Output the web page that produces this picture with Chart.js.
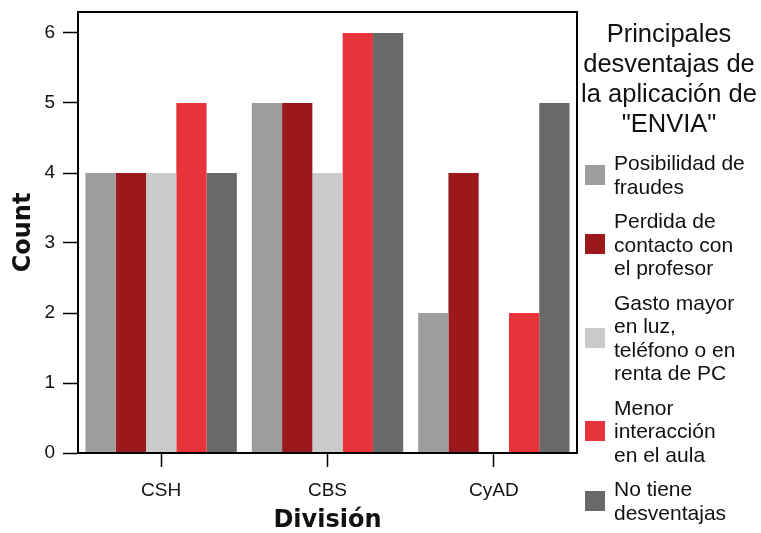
<!DOCTYPE html>
<html lang="es">
<head>
    <meta charset="UTF-8">
    <title>Principales desventajas de la aplicación de "ENVIA"</title>
    <script src="https://cdn.jsdelivr.net/npm/chart.js"></script>
    <style>
        body { margin: 0; background: #fff; width: 761px; height: 533px; overflow: hidden; position: relative; font-family: "Liberation Sans", Arial, sans-serif; }
        #wrap { position: absolute; left: 0; top: 0; width: 580px; height: 533px; }
        #legend { position: absolute; left: 577px; top: 18px; width: 184px; color: #111; }
        #legend .title { text-align: center; font-size: 25.5px; line-height: 30px; margin-bottom: 13px; white-space: nowrap; }
        #legend .item { display: flex; align-items: center; margin-left: 8px; margin-bottom: 11px; }
        #legend .sw { width: 20px; height: 20px; flex: none; margin-right: 9px; }
        #legend .txt { font-size: 21px; line-height: 23.5px; white-space: nowrap; }
    </style>
</head>
<body>
    <div id="wrap"><canvas id="chart"></canvas></div>
    <div id="legend"></div>
    <script>
        const divisiones = ['CSH', 'CBS', 'CyAD'];
        const fraudes = [4, 5, 2];
        const contacto = [4, 5, 4];
        const gasto = [4, 4, 0];
        const interaccion = [5, 6, 2];
        const sinDesventajas = [4, 6, 5];
        const seriesNames = [
            ['Posibilidad de', 'fraudes'],
            ['Perdida de', 'contacto con', 'el profesor'],
            ['Gasto mayor', 'en luz,', 'teléfono o en', 'renta de PC'],
            ['Menor', 'interacción', 'en el aula'],
            ['No tiene', 'desventajas']
        ];
        const colors = ['#9d9d9d', '#9b181c', '#cacaca', '#e8333a', '#696969'];
        const legendTitle = ['Principales', 'desventajas de', 'la aplicación de', '"ENVIA"'];

        const allSeries = [fraudes, contacto, gasto, interaccion, sinDesventajas];

        // black box round the plot area
        const frame = {
            id: 'frame',
            afterDraw(chart) {
                const a = chart.chartArea, ctx = chart.ctx;
                ctx.save();
                ctx.strokeStyle = '#000';
                ctx.lineWidth = 2;
                ctx.strokeRect(a.left, a.top, a.right - a.left, a.bottom - a.top);
                ctx.restore();
            }
        };

        new Chart(document.getElementById('chart'), {
            type: 'bar',
            data: {
                labels: divisiones,
                datasets: allSeries.map((d, i) => ({
                    label: seriesNames[i].join(' '),
                    data: d,
                    backgroundColor: colors[i],
                    borderWidth: 0
                }))
            },
            options: {
                responsive: true,
                maintainAspectRatio: false,
                animation: false,
                categoryPercentage: 0.91,
                barPercentage: 1,
                layout: { padding: { top: 12, right: 3, left: 0, bottom: 0 } },
                plugins: { legend: { display: false }, tooltip: { enabled: false } },
                scales: {
                    y: {
                        min: 0,
                        max: 6.3,
                        afterFit: s => { s.width = 78; s.paddingTop = 0; s.paddingBottom = 0; },
                        ticks: { stepSize: 1, includeBounds: false, autoSkip: false, color: '#111', font: { family: 'Liberation Sans', size: 19 }, padding: 8 },
                        grid: { drawOnChartArea: false, drawTicks: true, tickLength: 15, color: '#000', tickWidth: 1.5 },
                        border: { color: '#000', width: 2 },
                        title: { display: true, text: 'Count', color: '#111', font: { family: 'DejaVu Sans', size: 24, weight: 'bold' }, padding: { top: 9 } }
                    },
                    x: {
                        afterFit: s => { s.height = 80; },
                        ticks: { color: '#111', font: { family: 'Liberation Sans', size: 19 }, padding: 12 },
                        grid: { offset: false, drawOnChartArea: false, drawTicks: true, tickLength: 14, color: '#000', tickWidth: 1.5 },
                        border: { color: '#000', width: 2 },
                        title: { display: true, text: 'División', color: '#111', font: { family: 'DejaVu Sans', size: 24, weight: 'bold', lineHeight: 1 }, padding: 0 }
                    }
                }
            },
            plugins: [frame]
        });

        const legend = document.getElementById('legend');
        const t = document.createElement('div');
        t.className = 'title';
        t.innerHTML = legendTitle.join('<br>');
        legend.appendChild(t);
        seriesNames.forEach((lines, i) => {
            const it = document.createElement('div');
            it.className = 'item';
            const sw = document.createElement('div');
            sw.className = 'sw';
            sw.style.background = colors[i];
            const tx = document.createElement('div');
            tx.className = 'txt';
            tx.innerHTML = lines.join('<br>');
            it.appendChild(sw);
            it.appendChild(tx);
            legend.appendChild(it);
        });
    </script>
</body>
</html>
